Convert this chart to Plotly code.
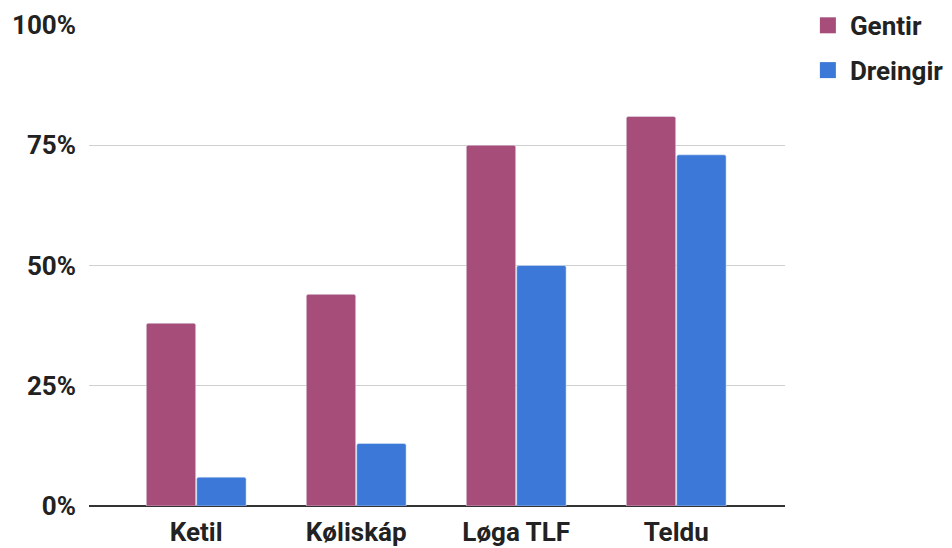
import plotly.graph_objects as go

categories = ["Ketil", "Køliskáp", "Løga TLF", "Teldu"]
gentir = [0.38, 0.44, 0.75, 0.81]
dreingir = [0.06, 0.13, 0.50, 0.73]
tick_vals = [0, 0.25, 0.5, 0.75, 1.0]
tick_text = ["0%", "25%", "50%", "75%", "100%"]
series_names = ["Gentir", "Dreingir"]
series_colors = ["#a64d79", "#3c78d8"]

font_family = "Roboto, Arial, sans-serif"

fig = go.Figure()
for name, vals, col in zip(series_names, [gentir, dreingir], series_colors):
    fig.add_trace(go.Bar(name=name, x=categories, y=vals, marker_color=col,
                         showlegend=False, hoverinfo="skip"))
# legend entries with larger square swatches
for name, col in zip(series_names, series_colors):
    fig.add_trace(go.Scatter(name=name, x=[None], y=[None], mode="markers",
                             marker=dict(symbol="square", size=22, color=col),
                             legendgroup=name, showlegend=True))

fig.update_layout(
    width=944, height=540,
    margin=dict(l=81, r=167, t=17, b=42, autoexpand=False),
    plot_bgcolor="white", paper_bgcolor="white",
    barmode="group", bargap=0.37, bargroupgap=0.02, barcornerradius=2,
    font=dict(family=font_family, size=26, color="#222222"),
    legend=dict(x=1.030, y=1.048, xanchor="left", yanchor="top",
                font=dict(size=26, color="#222222", weight="bold"),
                traceorder="grouped", tracegroupgap=8,
                itemwidth=34, bgcolor="rgba(0,0,0,0)"),
    showlegend=True,
)
fig.update_xaxes(showgrid=False, showline=False, zeroline=False,
                 range=[-0.67, 3.68],
                 tickfont=dict(size=26, weight="bold", color="#222222"),
                 ticks="", automargin=False, ticklabelstandoff=8)
fig.update_yaxes(range=[0, 1.0], tickvals=tick_vals, ticktext=tick_text,
                 showgrid=True, gridcolor="#d0d0d0", gridwidth=1,
                 zeroline=True, zerolinecolor="#333333", zerolinewidth=1.5,
                 tickfont=dict(size=26, weight="bold", color="#222222"),
                 ticklabelstandoff=12, showline=False, ticks="", automargin=False)

fig.write_html("out.html")
